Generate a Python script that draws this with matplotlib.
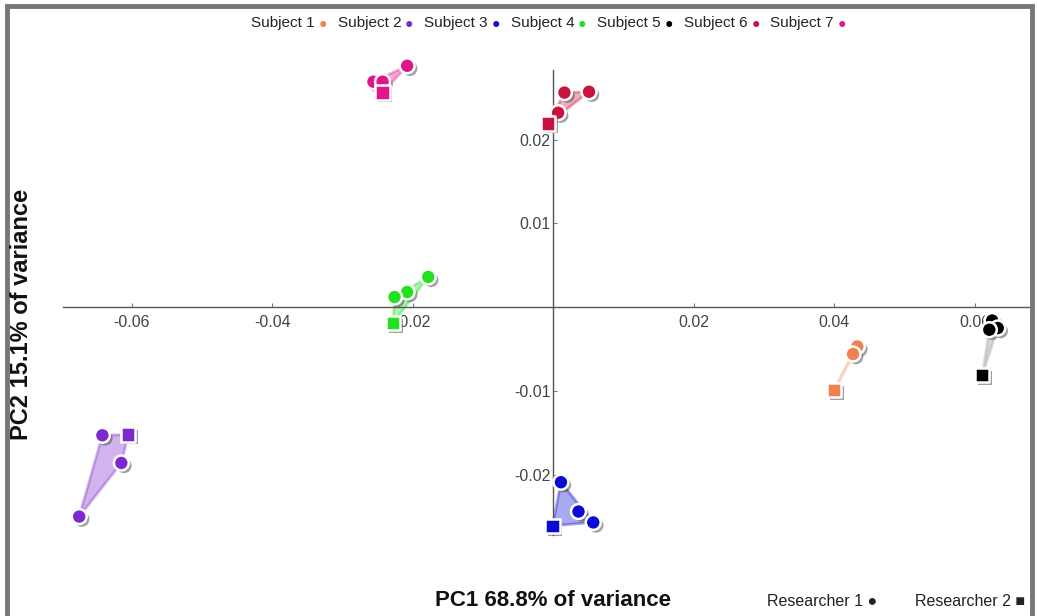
import numpy as np
import matplotlib.pyplot as plt
import matplotlib.patheffects as pe
from matplotlib.patches import Polygon, Rectangle

plt.rcParams['font.family'] = ['Liberation Sans', 'DejaVu Sans']

# --- donnees (PC1, PC2) ---
subjects = ["Subject 1", "Subject 2", "Subject 3", "Subject 4",
            "Subject 5", "Subject 6", "Subject 7"]
colors = ["#f0804f", "#7d28cf", "#0a0ad2", "#22e022",
          "#000000", "#c8143c", "#e0148c"]

# Researcher 1 (cercles)
r1_pc1 = [[0.0433, 0.0427],
          [-0.0642, -0.0615, -0.0675],
          [0.0011, 0.0036, 0.0057],
          [-0.0178, -0.0208, -0.0226],
          [0.0625, 0.0633, 0.0621],
          [0.0051, 0.0016, 0.0007],
          [-0.0208, -0.0256, -0.0243]]
r1_pc2 = [[-0.0047, -0.0056],
          [-0.0153, -0.0186, -0.0250],
          [-0.0209, -0.0244, -0.0257],
          [0.0036, 0.0018, 0.0012],
          [-0.0016, -0.0025, -0.0027],
          [0.0257, 0.0256, 0.0232],
          [0.0288, 0.0269, 0.0269]]

# Researcher 2 (carres)
r2_pc1 = [0.0400, -0.0605, -0.0001, -0.0228, 0.0611, -0.0007, -0.0243]
r2_pc2 = [-0.0099, -0.0152, -0.0261, -0.0019, -0.0081, 0.0219, 0.0256]

xticks = [-0.06, -0.04, -0.02, 0.02, 0.04, 0.06]
yticks = [-0.02, -0.01, 0.01, 0.02]


def convex_hull(pts):
    pts = sorted(set(pts))
    if len(pts) < 3:
        return pts

    def cross(o, a, b):
        return (a[0] - o[0]) * (b[1] - o[1]) - (a[1] - o[1]) * (b[0] - o[0])
    lower, upper = [], []
    for p in pts:
        while len(lower) >= 2 and cross(lower[-2], lower[-1], p) <= 0:
            lower.pop()
        lower.append(p)
    for p in reversed(pts):
        while len(upper) >= 2 and cross(upper[-2], upper[-1], p) <= 0:
            upper.pop()
        upper.append(p)
    return lower[:-1] + upper[:-1]


fig = plt.figure(figsize=(10.37, 6.16), dpi=100)
ax = fig.add_axes([0.0608, 0.1315, 0.9325, 0.7549])
ax.set_xlim(-0.0698, 0.0679)
ax.set_ylim(-0.0272, 0.0283)

for s in ["top", "right"]:
    ax.spines[s].set_visible(False)
ax.spines["left"].set_position(("data", 0))
ax.spines["bottom"].set_position(("data", 0))
for s in ["left", "bottom"]:
    ax.spines[s].set_color("#555555")
    ax.spines[s].set_linewidth(1.0)

ax.set_xticks(xticks)
ax.set_yticks(yticks)
ax.set_xticklabels(["{:g}".format(v) for v in xticks])
ax.set_yticklabels(["{:g}".format(v) for v in yticks])
ax.tick_params(axis="x", direction="in", length=3, color="#777777",
               labelsize=11.5, labelcolor="#444444", pad=6)
ax.tick_params(axis="y", direction="in", length=3, color="#777777",
               labelsize=11.5, labelcolor="#444444", pad=2)

shadow = [pe.SimplePatchShadow(offset=(2, -2), alpha=0.5, shadow_rgbFace="#444444"), pe.Normal()]

for i in range(len(subjects)):
    pts = list(zip(r1_pc1[i], r1_pc2[i])) + [(r2_pc1[i], r2_pc2[i])]
    hull = convex_hull(pts)
    c = colors[i]
    line_c = "#999999" if c == "#000000" else c
    poly = Polygon(hull, closed=True, facecolor=line_c, alpha=0.35,
                   edgecolor=line_c, linewidth=2, zorder=2, clip_on=False)
    ax.add_patch(poly)
    ax.scatter(r1_pc1[i], r1_pc2[i], s=115, marker="o", color=c,
               edgecolors="white", linewidths=1.8, zorder=4, clip_on=False,
               path_effects=shadow)
    ax.scatter([r2_pc1[i]], [r2_pc2[i]], s=105, marker="s", color=c,
               edgecolors="white", linewidths=1.8, zorder=4, clip_on=False,
               path_effects=shadow)

# legende du haut
x = 0.242
for name, c in zip(subjects, colors):
    fig.text(x, 0.963, name, fontsize=11, color="#222222", va="center", ha="left")
    fig.text(x + 0.065, 0.961, "\u25cf", fontsize=10, color=c, va="center", ha="left")
    x += 0.0835

# titres des axes
fig.text(0.533, 0.025, "PC1 68.8% of variance", fontsize=16, fontweight="bold",
         ha="center", va="center", color="#111111")
fig.text(0.021, 0.49, "PC2 15.1% of variance", fontsize=17, fontweight="bold",
         ha="center", va="center", rotation=90, color="#111111")
fig.text(0.74, 0.024, "Researcher 1 \u25cf", fontsize=11.5, ha="left", va="center", color="#222222")
fig.text(0.882, 0.024, "Researcher 2 \u25a0", fontsize=11.5, ha="left", va="center", color="#222222")

# cadre gris
fig.patches.append(Rectangle((0.0072, -0.05), 0.988, 1.04, transform=fig.transFigure,
                             fill=False, edgecolor="#777777", linewidth=3.5, zorder=0))

fig.savefig("out.png", dpi=100, facecolor="white")
